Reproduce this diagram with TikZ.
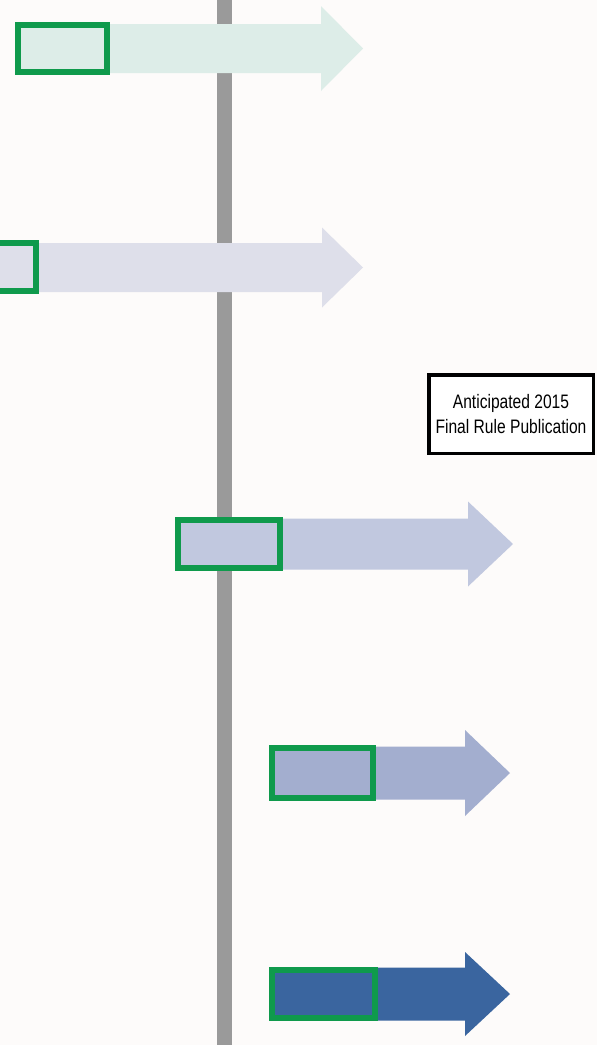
\documentclass[tikz,border=0pt]{standalone}
\usepackage{fontspec}
\setmainfont{Liberation Sans}
\newfontfamily\condensed[FakeStretch=0.8]{Liberation Sans}
\definecolor{pagebg}{HTML}{FDFBFA}
\definecolor{axisgray}{HTML}{9A9A9A}
\definecolor{framegreen}{HTML}{0F9A4C}
\definecolor{shadeA}{HTML}{DDEDE8}
\definecolor{shadeB}{HTML}{DEDFEA}
\definecolor{shadeC}{HTML}{C1C8DF}
\definecolor{shadeD}{HTML}{A3AECF}
\definecolor{shadeE}{HTML}{3A659F}
\tikzset{
  phasebox/.style={draw=framegreen, line width=6pt, inner sep=0pt, rectangle},
  notebox/.style={draw=black, line width=3.5pt, fill=white, inner sep=0pt,
    minimum width=164.5pt, minimum height=78.5pt, align=center,
    font=\condensed\fontsize{19.5}{25}\selectfont},
}
% block arrow: body from x=#1 to head base #2, tip #3, centre y #4, half body #5, half head #6
\newcommand{\blockarrow}[7]{%
  \fill[#7] (#1,#4-#5) -- (#2,#4-#5) -- (#2,#4-#6) -- (#3,#4) -- (#2,#4+#6)
    -- (#2,#4+#5) -- (#1,#4+#5) -- cycle;}
\begin{document}
\begin{tikzpicture}[x=1pt,y=-1pt]
  \fill[pagebg] (0,0) rectangle (597,1045);
  \useasboundingbox (0,0) rectangle (597,1045);
  % vertical time axis
  \fill[axisgray] (217,0) rectangle (232,1045);
  % phase arrows
  \blockarrow{15}{321}{363}{48.5}{24.5}{42.5}{shadeA}
  \blockarrow{-60}{322}{363}{267.5}{24.5}{40}{shadeB}
  \blockarrow{175}{468}{513}{544}{25.5}{42.5}{shadeC}
  \blockarrow{269}{465}{510}{773}{26.5}{43}{shadeD}
  \blockarrow{269}{465}{510}{994}{26.5}{42}{shadeE}
  % phase boxes
  \node[phasebox, fill=shadeA, minimum width=89pt, minimum height=47pt] (p1) at (62.5,48.5) {};
  \node[phasebox, fill=shadeB, minimum width=89pt, minimum height=48pt] (p2) at (-8.5,267) {};
  \node[phasebox, fill=shadeC, minimum width=102pt, minimum height=48pt] (p3) at (229,544) {};
  \node[phasebox, fill=shadeD, minimum width=101pt, minimum height=50pt] (p4) at (322.5,773) {};
  \node[phasebox, fill=shadeE, minimum width=103pt, minimum height=48pt] (p5) at (323.5,994) {};
  % milestone note
  \node[notebox] (note) at (511,414) {Anticipated 2015\\Final Rule Publication};
\end{tikzpicture}
\end{document}
